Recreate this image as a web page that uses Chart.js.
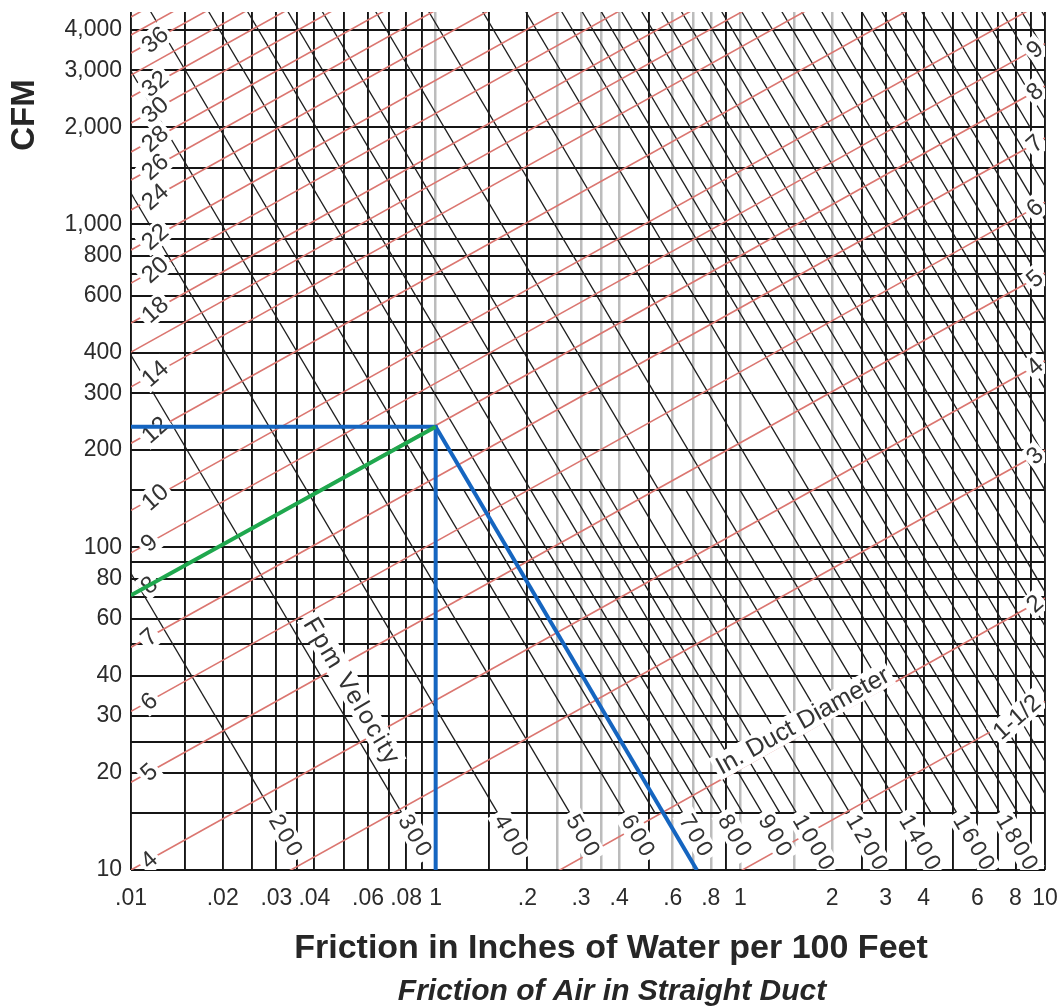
<!DOCTYPE html>
<html><head><meta charset="utf-8">
<style>html,body{margin:0;padding:0;background:#fff}#wrap{width:1062px;height:1008px}</style>
<script src="https://cdn.jsdelivr.net/npm/chart.js@4.4.1/dist/chart.umd.min.js"></script>
</head><body><div id="wrap"><canvas id="c" width="1062" height="1008"></canvas></div>
<script>
// ---------- axes ----------
const xMin = 0.01, xMax = 10, yMin = 10, yMax = 4550;
const xTickValues = [0.01,0.02,0.03,0.04,0.06,0.08,0.1,0.2,0.3,0.4,0.6,0.8,1,2,3,4,6,8,10];
const xTickLabels = ['.01','.02','.03','.04','.06','.08','1','.2','.3','.4','.6','.8','1','2','3','4','6','8','10'];
const xGridDark = [0.01,0.015,0.02,0.025,0.03,0.035,0.04,0.05,0.06,0.07,0.08,0.09,0.15,0.2,0.5,0.9,2.5,3,3.5,4,5,6,7,8,9,10];
const xGridLight = [0.1,0.25,0.3,0.35,0.4,0.6,0.7,0.8,1,1.5,2];
const yTickValues = [10,20,30,40,60,80,100,200,300,400,600,800,1000,2000,3000,4000];
const yTickLabels = ['10','20','30','40','60','80','100','200','300','400','600','800','1,000','2,000','3,000','4,000'];
const yGrid = [10,15,20,25,30,40,50,60,70,80,90,100,150,200,300,400,500,600,700,800,900,1000,1500,2000,3000,4000];

// ---------- duct diameter lines (CFM at friction .01 and at friction 10) ----------
const ductSizes = ['1-1/2','2','3','4','5','6','7','8','9','10','12','14','16','18','20','22','24','26','28','30','32','34','36','38','40'];
const ductCfmAtLowFriction = [0.88,1.8,5.3,10,18.7,31,49,71,96,130,210,314,402,495,658,833,1108,1373,1676,2061,2481,2902,3396,3862,4391];
const ductCfmAtHighFriction = [33.3,69.6,200,378,707,1172,1852,2684,3629,4914,7938,11870,15200,18710,24870,31490,41880,51900,63350,77910,93780,109700,128400,146000,166000];
const ductLabelsLeft = ['36','32','30','28','26','24','22','20','18','14','12','10','9','8','7','6','5','4'];
const ductLabelsRight = ['9','8','7','6','5','4','3','2','1-1/2'];

// ---------- velocity lines (friction at 15 CFM and at 5000 CFM) ----------
const velocityLabels = ['200','300','400','500','600','700','800','900','1000','1200','1400','1600','1800'];
const velocityFrictionAt15 = [0.0292,0.0775,0.160,0.276,0.418,0.648,0.870,1.18,1.53,2.29,3.42,5.14,7.12];
const velocityFrictionAt5000 = [0.000765,0.00203,0.00419,0.00723,0.01095,0.01698,0.02279,0.03091,0.04008,0.0600,0.0896,0.1347,0.1865];
// short unlabeled lines (from 15 CFM up to 150 CFM)
const shortVelocityFrictionAt15 = [0.525,0.754,1.02,1.35,1.88,2.81,4.23,6.07,8.15];
const shortVelocityFrictionAt150 = [0.1239,0.178,0.2408,0.3187,0.4438,0.6634,0.9986,1.433,1.924];
// high unlabeled lines
const highVelocityFrictionAt15 = [9.34,10.9,12.6,14.7,17.1,19.9,23.1,26.9,31.3,36.4,42.4,49.3,57.3,66.7,77.5,90.2,105,122,142,165,192,223,260,302,352];
const highVelocityFrictionAt5000 = [0.2447,0.2856,0.3301,0.3851,0.448,0.521,0.605,0.705,0.820,0.954,1.111,1.292,1.501,1.747,2.030,2.363,2.751,3.196,3.720,4.323,5.030,5.842,6.812,7.912,9.222];

// ---------- example overlay ----------
const greenFriction = [0.01, 0.1];
const greenCfm = [71, 236];
const bluePathFriction = [0.01, 0.1, 0.1];
const bluePathCfm = [236, 236, 10];
const blueDiagFriction = [0.1, 0.72];
const blueDiagCfm = [236, 10];

// ---------- texts ----------
const yTitle = 'CFM';
const xTitle = 'Friction in Inches of Water per 100 Feet';
const xSubtitle = 'Friction of Air in Straight Duct';
const velocityNote = {text: 'Fpm Velocity', friction: 0.053, cfm: 36};
const diameterNote = {text: 'In. Duct Diameter', friction: 1.6, cfm: 29};

// ---------- build ----------
const FONT = '"Liberation Sans", Arial, Helvetica, sans-serif';
const RED = 'rgb(219,118,112)';
const DIAG = '#1e1e1e';
function seg(xs, ys, color, width, order) {
  return {data: xs.map((x, i) => ({x: x, y: ys[i]})), borderColor: color, borderWidth: width,
          pointRadius: 0, fill: false, tension: 0, order: order, borderCapStyle: 'butt'};
}
const datasets = [];
datasets.push(seg(greenFriction, greenCfm, '#1fa84e', 4, 0));
datasets.push(seg(bluePathFriction, bluePathCfm, '#1565c0', 4, 0));
datasets.push(seg(blueDiagFriction, blueDiagCfm, '#1565c0', 4, 0));
ductSizes.forEach((d, i) => datasets.push(seg([xMin, xMax], [ductCfmAtLowFriction[i], ductCfmAtHighFriction[i]], RED, 1.6, 1)));
velocityLabels.forEach((v, i) => datasets.push(seg([velocityFrictionAt15[i], velocityFrictionAt5000[i]], [15, 5000], DIAG, 1.3, 2)));
shortVelocityFrictionAt15.forEach((f, i) => datasets.push(seg([f, shortVelocityFrictionAt150[i]], [15, 150], DIAG, 1.3, 2)));
highVelocityFrictionAt15.forEach((f, i) => datasets.push(seg([f, highVelocityFrictionAt5000[i]], [15, 5000], DIAG, 1.3, 2)));

const xGridAll = [...xGridDark, ...xGridLight].sort((a, b) => a - b);
const xLabelMap = new Map(xTickValues.map((v, i) => [v, xTickLabels[i]]));
const yLabelMap = new Map(yTickValues.map((v, i) => [v, yTickLabels[i]]));

function setFont(ctx, size, style, spacing) {
  ctx.font = (style || '') + ' ' + size + 'px ' + FONT;
  if ('letterSpacing' in ctx) ctx.letterSpacing = (spacing || 0) + 'px';
}
function measure(ctx, text, size, spacing) {
  ctx.save(); setFont(ctx, size, '', spacing); const w = ctx.measureText(text).width; ctx.restore(); return w;
}
function tag(ctx, text, cx, cy, ang, size, spacing, bg) {
  ctx.save();
  setFont(ctx, size, '', spacing);
  const w = ctx.measureText(text).width;
  ctx.translate(cx, cy); ctx.rotate(ang);
  if (bg) { ctx.fillStyle = '#fff'; ctx.fillRect(-w / 2 - 3, -size * 0.5, w + 6, size * 1.0); }
  ctx.fillStyle = '#333'; ctx.textAlign = 'center'; ctx.textBaseline = 'middle';
  ctx.fillText(text, (spacing || 0) / 2, 1);
  ctx.restore();
}
function pix(chart, f, q) { return {x: chart.scales.x.getPixelForValue(f), y: chart.scales.y.getPixelForValue(q)}; }
function unit(a, b) { const dx = b.x - a.x, dy = b.y - a.y, l = Math.hypot(dx, dy); return {x: dx / l, y: dy / l}; }

let labelsDone = false;
function drawLabels(chart) {
  const ctx = chart.ctx, a = chart.chartArea;
  ctx.save();
  ctx.beginPath(); ctx.rect(a.left, a.top, a.right - a.left, a.bottom - a.top); ctx.clip();
  velocityLabels.forEach((t, i) => {
    const p0 = pix(chart, velocityFrictionAt15[i], 15), p1 = pix(chart, velocityFrictionAt5000[i], 5000);
    const d = unit(p1, p0);
    const w = measure(ctx, t, 23, 3);
    tag(ctx, t, p0.x + d.x * (2 + w / 2), p0.y + d.y * (2 + w / 2), Math.atan2(d.y, d.x), 23, 3, true);
  });
  ductLabelsLeft.forEach(t => {
    const i = ductSizes.indexOf(t);
    const p0 = pix(chart, xMin, ductCfmAtLowFriction[i]), p1 = pix(chart, xMax, ductCfmAtHighFriction[i]);
    const d = unit(p0, p1);
    const w = measure(ctx, t, 24, 0);
    tag(ctx, t, p0.x + d.x * (14 + w / 2), p0.y + d.y * (14 + w / 2), -0.72, 24, 0, true);
  });
  ductLabelsRight.forEach(t => {
    const i = ductSizes.indexOf(t);
    const p0 = pix(chart, xMin, ductCfmAtLowFriction[i]), p1 = pix(chart, xMax, ductCfmAtHighFriction[i]);
    const d = unit(p0, p1);
    const w = measure(ctx, t, 24, 0);
    tag(ctx, t, p1.x - d.x * (5 + w / 2), p1.y - d.y * (5 + w / 2), -0.72, 24, 0, true);
  });
  {
    const p0 = pix(chart, velocityFrictionAt15[1], 15), p1 = pix(chart, velocityFrictionAt5000[1], 5000);
    const d = unit(p1, p0);
    const c = pix(chart, velocityNote.friction, velocityNote.cfm);
    tag(ctx, velocityNote.text, c.x, c.y, Math.atan2(d.y, d.x), 25, 2, true);
  }
  {
    const i = ductSizes.indexOf('4');
    const p0 = pix(chart, xMin, ductCfmAtLowFriction[i]), p1 = pix(chart, xMax, ductCfmAtHighFriction[i]);
    const d = unit(p0, p1);
    const c = pix(chart, diameterNote.friction, diameterNote.cfm);
    tag(ctx, diameterNote.text, c.x, c.y, Math.atan2(d.y, d.x), 25, 0, true);
  }
  ctx.restore();
}

const annotate = {
  id: 'annotate',
  beforeDatasetsDraw() { labelsDone = false; },
  beforeDatasetDraw(chart, args) {
    if (!labelsDone && chart.data.datasets[args.index].order === 0) { drawLabels(chart); labelsDone = true; }
  },
  afterDraw(chart) {
    const ctx = chart.ctx;
    ctx.save();
    ctx.fillStyle = '#262626';
    ctx.textAlign = 'center'; ctx.textBaseline = 'middle';
    if ('letterSpacing' in ctx) ctx.letterSpacing = '0px';
    ctx.save(); ctx.translate(25, 115); ctx.rotate(-Math.PI / 2);
    ctx.font = 'bold 33px ' + FONT; ctx.fillText(yTitle, 0, 0); ctx.restore();
    ctx.font = 'bold 34px ' + FONT; ctx.fillText(xTitle, 611, 949);
    ctx.font = 'italic bold 30px ' + FONT; ctx.fillText(xSubtitle, 612, 992);
    ctx.restore();
  }
};

new Chart(document.getElementById('c'), {
  type: 'line',
  data: {datasets: datasets},
  options: {
    responsive: false, animation: false, devicePixelRatio: 1,
    layout: {padding: {top: 12, right: 17, left: 0, bottom: 0}},
    plugins: {legend: {display: false}, tooltip: {enabled: false}},
    scales: {
      x: {
        type: 'logarithmic', position: 'bottom', min: xMin, max: xMax,
        afterBuildTicks: s => { s.ticks = xGridAll.map(v => ({value: v})); },
        afterFit: s => { s.height = 138; s.paddingLeft = 0; s.paddingRight = 0; },
        ticks: {autoSkip: false, maxRotation: 0, minRotation: 0, padding: 15, color: '#2b2b2b',
                font: {family: FONT, size: 23}, callback: v => xLabelMap.has(v) ? xLabelMap.get(v) : ''},
        grid: {drawTicks: false,
               color: c => (c.tick && xGridLight.includes(c.tick.value)) ? '#bcbcbc' : '#151515',
               lineWidth: c => (c.tick && xGridLight.includes(c.tick.value)) ? 2.5 : 1.9},
        border: {display: false}
      },
      y: {
        type: 'logarithmic', position: 'left', min: yMin, max: yMax,
        afterBuildTicks: s => { s.ticks = yGrid.map(v => ({value: v})); },
        afterFit: s => { s.width = 131; s.paddingTop = 0; s.paddingBottom = 0; },
        ticks: {autoSkip: false, padding: 9, color: '#2b2b2b',
                font: {family: FONT, size: 23}, callback: v => yLabelMap.has(v) ? yLabelMap.get(v) : ''},
        grid: {drawTicks: false, color: '#151515', lineWidth: 1.9},
        border: {display: false}
      }
    }
  },
  plugins: [annotate]
});
</script>
</body></html>
